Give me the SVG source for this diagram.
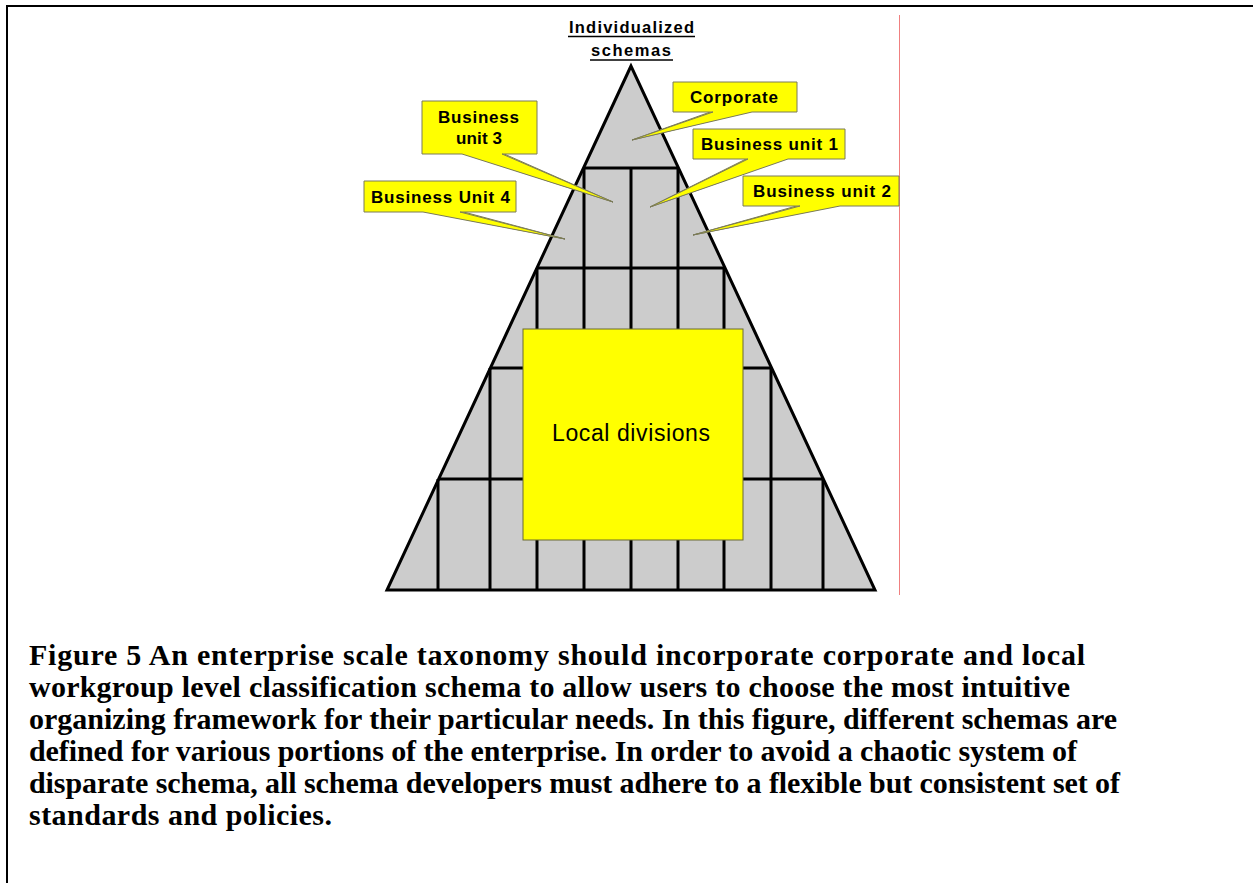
<svg xmlns="http://www.w3.org/2000/svg" width="1253" height="883" viewBox="0 0 1253 883">
  <style>
    .frame { stroke: #000; stroke-width: 2; fill: none; }
    .guide { stroke: #f08080; stroke-width: 1; fill: none; }
    .pyr { fill: #cccccc; stroke: none; }
    .edge { fill: none; stroke: #000; stroke-width: 3; stroke-linejoin: miter; }
    .grid { stroke: #000; stroke-width: 3; fill: none; }
    .callout { fill: #ffff00; stroke: #7a7a5a; stroke-width: 1; stroke-linejoin: miter; }
    .box { fill: #ffff00; stroke: #6b6b30; stroke-width: 1; }
    .lbl { font-family: "Liberation Sans", Arial, sans-serif; font-weight: bold; font-size: 17px; fill: #000; text-anchor: middle; }
    .title { font-family: "Liberation Sans", Arial, sans-serif; font-weight: bold; font-size: 16.5px; fill: #000; text-anchor: middle; }
    .uline { stroke: #000; stroke-width: 1.5; }
    .big { font-family: "Liberation Sans", Arial, sans-serif; font-size: 23px; fill: #000; text-anchor: middle; }
    .cap { font-family: "Liberation Serif", "Times New Roman", serif; font-weight: bold; font-size: 30px; fill: #000; }
  </style>

  <!-- page frame (top and left rules) -->
  <g id="frame">
    <line class="frame" x1="6" y1="6" x2="1253" y2="6"/>
    <line class="frame" x1="7" y1="5" x2="7" y2="883"/>
    <line class="guide" x1="899.5" y1="15" x2="899.5" y2="595"/>
  </g>

  <!-- heading above the apex -->
  <g id="heading">
    <text class="title" x="631.5" y="33" textLength="125" lengthAdjust="spacing">Individualized</text>
    <line class="uline" x1="568" y1="36.5" x2="695" y2="36.5"/>
    <text class="title" x="631" y="56" textLength="80" lengthAdjust="spacing">schemas</text>
    <line class="uline" x1="590" y1="60" x2="673" y2="60"/>
  </g>

  <!-- pyramid with its tiers of cells -->
  <g id="pyramid">
    <polygon class="pyr" points="631,66 387,590 875,590"/>
    <g class="grid">
      <line x1="583.5" y1="168" x2="678.5" y2="168"/>
      <line x1="536.9" y1="268" x2="725.1" y2="268"/>
      <line x1="490.4" y1="368" x2="771.6" y2="368"/>
      <line x1="438.7" y1="479" x2="823.3" y2="479"/>
      <line x1="584" y1="168" x2="584" y2="590"/>
      <line x1="631" y1="168" x2="631" y2="590"/>
      <line x1="678" y1="168" x2="678" y2="590"/>
      <line x1="537" y1="268" x2="537" y2="590"/>
      <line x1="724" y1="268" x2="724" y2="590"/>
      <line x1="490" y1="368" x2="490" y2="590"/>
      <line x1="771" y1="368" x2="771" y2="590"/>
      <line x1="438" y1="479" x2="438" y2="590"/>
      <line x1="823" y1="479" x2="823" y2="590"/>
    </g>
    <polygon class="edge" points="631,66 387,590 875,590"/>
  </g>

  <!-- local divisions block -->
  <g id="local-divisions">
    <rect class="box" x="523" y="329" width="220" height="211"/>
    <text class="big" x="631" y="441" textLength="158" lengthAdjust="spacing">Local divisions</text>
  </g>

  <!-- callout pointers into the pyramid cells -->
  <g id="connectors">
    <polygon class="callout" points="713,111 752,111 632,140"/>
    <polygon class="callout" points="748,158 788,158 650,207"/>
    <polygon class="callout" points="800,205 840,205 693,235"/>
    <polygon class="callout" points="462,153 502,153 613,202"/>
    <polygon class="callout" points="423,211 460,211 565,239"/>
  </g>

  <!-- callout labels -->
  <g id="corporate">
    <path class="callout" d="M673,82 H797 V112 H752 L632,140 L713,112 H673 Z"/>
    <text class="lbl" x="734" y="103" textLength="88" lengthAdjust="spacing">Corporate</text>
  </g>
  <g id="business-unit-1">
    <path class="callout" d="M693,129 H845 V159 H788 L650,207 L748,159 H693 Z"/>
    <text class="lbl" x="769.5" y="150" textLength="137" lengthAdjust="spacing">Business unit 1</text>
  </g>
  <g id="business-unit-2">
    <path class="callout" d="M743,176 H899 V206 H840 L693,235 L800,206 H743 Z"/>
    <text class="lbl" x="822" y="197" textLength="138" lengthAdjust="spacing">Business unit 2</text>
  </g>
  <g id="business-unit-3">
    <path class="callout" d="M422,101 H537 V154 H502 L613,202 L462,154 H422 Z"/>
    <text class="lbl" x="478.5" y="123" textLength="81" lengthAdjust="spacing">Business</text>
    <text class="lbl" x="479" y="144" textLength="46" lengthAdjust="spacing">unit 3</text>
  </g>
  <g id="business-unit-4">
    <path class="callout" d="M364,181 H516 V212 H460 L565,239 L423,212 H364 Z"/>
    <text class="lbl" x="440.5" y="203" textLength="139" lengthAdjust="spacing">Business Unit 4</text>
  </g>

  <!-- figure caption -->
  <g id="caption">
    <text class="cap" x="29" y="665" textLength="1056" lengthAdjust="spacing">Figure 5 An enterprise scale taxonomy should incorporate corporate and local</text>
    <text class="cap" x="29" y="697" textLength="1041" lengthAdjust="spacing">workgroup level classification schema to allow users to choose the most intuitive</text>
    <text class="cap" x="29" y="729" textLength="1088" lengthAdjust="spacing">organizing framework for their particular needs. In this figure, different schemas are</text>
    <text class="cap" x="29" y="761" textLength="1048" lengthAdjust="spacing">defined for various portions of the enterprise. In order to avoid a chaotic system of</text>
    <text class="cap" x="29" y="793" textLength="1091" lengthAdjust="spacing">disparate schema, all schema developers must adhere to a flexible but consistent set of</text>
    <text class="cap" x="29" y="825" textLength="303" lengthAdjust="spacing">standards and policies.</text>
  </g>
</svg>
